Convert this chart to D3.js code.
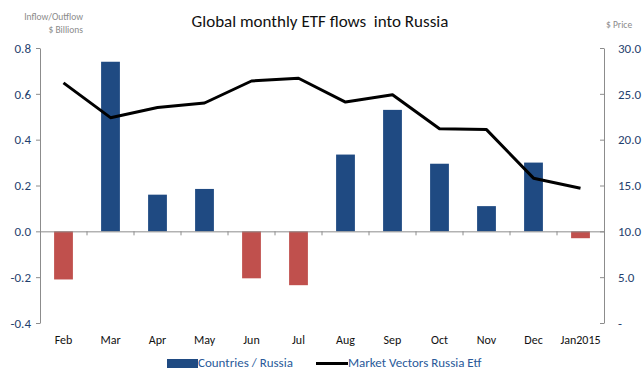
<!DOCTYPE html>
<html>
<head>
<meta charset="utf-8">
<script src="https://cdn.jsdelivr.net/npm/d3@7"></script>
<style>
  body { margin: 0; background: #fff; }
  text { font-family: Calibri, Carlito, "Open Sans", sans-serif; }
</style>
</head>
<body>
<svg id="drawing_region"></svg>
<script>
const months = ['Feb','Mar','Apr','May','Jun','Jul','Aug','Sep','Oct','Nov','Dec','Jan2015'];
const flows = [-0.21, 0.74, 0.16, 0.185, -0.205, -0.235, 0.335, 0.53, 0.295, 0.11, 0.30, -0.03];
const prices = [26.2, 22.4, 23.5, 24.0, 26.4, 26.7, 24.1, 24.9, 21.2, 21.1, 15.8, 14.7];
const left_ticks = [-0.4, -0.2, 0.0, 0.2, 0.4, 0.6, 0.8];
const right_ticks = [0, 5, 10, 15, 20, 25, 30];

const width = 644, height = 372;
const margin = {top: 48, right: 40, bottom: 49, left: 40};
const inner_width = width - margin.left - margin.right;
const inner_height = height - margin.top - margin.bottom;

const svg = d3.select('#drawing_region')
    .attr('width', width)
    .attr('height', height);
const chart = svg.append('g')
    .attr('transform', `translate(${margin.left}, ${margin.top})`);

const xscale = d3.scaleBand()
    .domain(months)
    .range([0, inner_width])
    .paddingInner(0.6)
    .paddingOuter(0.3);
const yscale = d3.scaleLinear()
    .domain([-0.4, 0.8])
    .range([inner_height, 0]);
const y2scale = d3.scaleLinear()
    .domain([0, 30])
    .range([inner_height, 0]);

// left axis
const yaxis = d3.axisLeft(yscale)
    .tickValues(left_ticks)
    .tickFormat(d3.format('.1f'))
    .tickSize(4)
    .tickSizeOuter(0);
const yaxis_group = chart.append('g').call(yaxis);
yaxis_group.select('.domain').attr('stroke', '#8c8c8c');
yaxis_group.selectAll('.tick line').attr('stroke', '#8c8c8c');
yaxis_group.selectAll('.tick text')
    .attr('x', -9)
    .style('font-size', '13px')
    .attr('fill', '#1f3f6e')
    .text(d => d3.format('.1f')(d).replace('−', '-'));

// right axis
const y2axis = d3.axisRight(y2scale)
    .tickValues(right_ticks)
    .tickFormat(d => d === 0 ? '-' : d3.format('.1f')(d))
    .tickSize(-4)
    .tickSizeOuter(0);
const y2axis_group = chart.append('g')
    .attr('transform', `translate(${inner_width}, 0)`)
    .call(y2axis);
y2axis_group.select('.domain').attr('stroke', '#8c8c8c');
y2axis_group.selectAll('.tick line').attr('stroke', '#8c8c8c');
y2axis_group.selectAll('.tick text')
    .attr('x', 14)
    .style('font-size', '13px')
    .attr('fill', '#1f3f6e');

// bars
chart.selectAll('rect.bar')
    .data(flows)
    .enter()
    .append('rect')
    .attr('class', 'bar')
    .attr('x', (d, i) => xscale(months[i]))
    .attr('y', d => yscale(Math.max(0, d)))
    .attr('width', xscale.bandwidth())
    .attr('height', d => Math.abs(yscale(d) - yscale(0)))
    .attr('fill', d => d < 0 ? '#c0504d' : '#1f4a82');

// zero axis with category ticks
const xaxis = d3.axisBottom(xscale).tickSize(0).tickFormat('');
const xaxis_group = chart.append('g')
    .attr('transform', `translate(0, ${yscale(0)})`)
    .call(xaxis);
xaxis_group.select('.domain').attr('stroke', '#8c8c8c');
const gap = (xscale.step() - xscale.bandwidth()) / 2;
chart.selectAll('line.cat')
    .data(months.slice(1))
    .enter()
    .append('line')
    .attr('class', 'cat')
    .attr('x1', d => xscale(d) - gap)
    .attr('x2', d => xscale(d) - gap)
    .attr('y1', yscale(0))
    .attr('y2', yscale(0) + 4)
    .attr('stroke', '#8c8c8c');

// category labels
chart.selectAll('text.cat')
    .data(months)
    .enter()
    .append('text')
    .attr('class', 'cat')
    .attr('x', d => xscale(d) + xscale.bandwidth() / 2)
    .attr('y', inner_height + 21)
    .attr('text-anchor', 'middle')
    .style('font-size', '12px')
    .attr('fill', '#111')
    .text(d => d);

// price line
const line = d3.line()
    .x((d, i) => xscale(months[i]) + xscale.bandwidth() / 2)
    .y(d => y2scale(d));
chart.append('path')
    .datum(prices)
    .attr('d', line)
    .attr('fill', 'none')
    .attr('stroke', '#000')
    .attr('stroke-width', 3)
    .attr('stroke-linejoin', 'round');

// titles
svg.append('text')
    .attr('x', 320)
    .attr('y', 27)
    .attr('text-anchor', 'middle')
    .style('font-size', '17px')
    .attr('fill', '#111')
    .text('Global monthly ETF flows  into Russia')
    .style('white-space', 'pre');
svg.append('text')
    .attr('x', 83)
    .attr('y', 20)
    .attr('text-anchor', 'end')
    .style('font-size', '9.5px')
    .attr('fill', '#8a8a8a')
    .text('Inflow/Outflow');
svg.append('text')
    .attr('x', 83)
    .attr('y', 33)
    .attr('text-anchor', 'end')
    .style('font-size', '9.5px')
    .attr('fill', '#8a8a8a')
    .text('$ Billions');
svg.append('text')
    .attr('x', 606)
    .attr('y', 28)
    .style('font-size', '9.5px')
    .attr('fill', '#8a8a8a')
    .text('$ Price');

// legend
const legend = svg.append('g');
legend.append('rect')
    .attr('x', 167).attr('y', 359)
    .attr('width', 31).attr('height', 9)
    .attr('fill', '#1f4a82');
legend.append('text')
    .attr('x', 198).attr('y', 367)
    .style('font-size', '13px')
    .attr('fill', '#2a5a9a')
    .text('Countries / Russia');
legend.append('line')
    .attr('x1', 316).attr('x2', 348)
    .attr('y1', 363.5).attr('y2', 363.5)
    .attr('stroke', '#000').attr('stroke-width', 3);
legend.append('text')
    .attr('x', 348).attr('y', 367)
    .style('font-size', '13px')
    .attr('fill', '#2a5a9a')
    .text('Market Vectors Russia Etf');
</script>
</body>
</html>
